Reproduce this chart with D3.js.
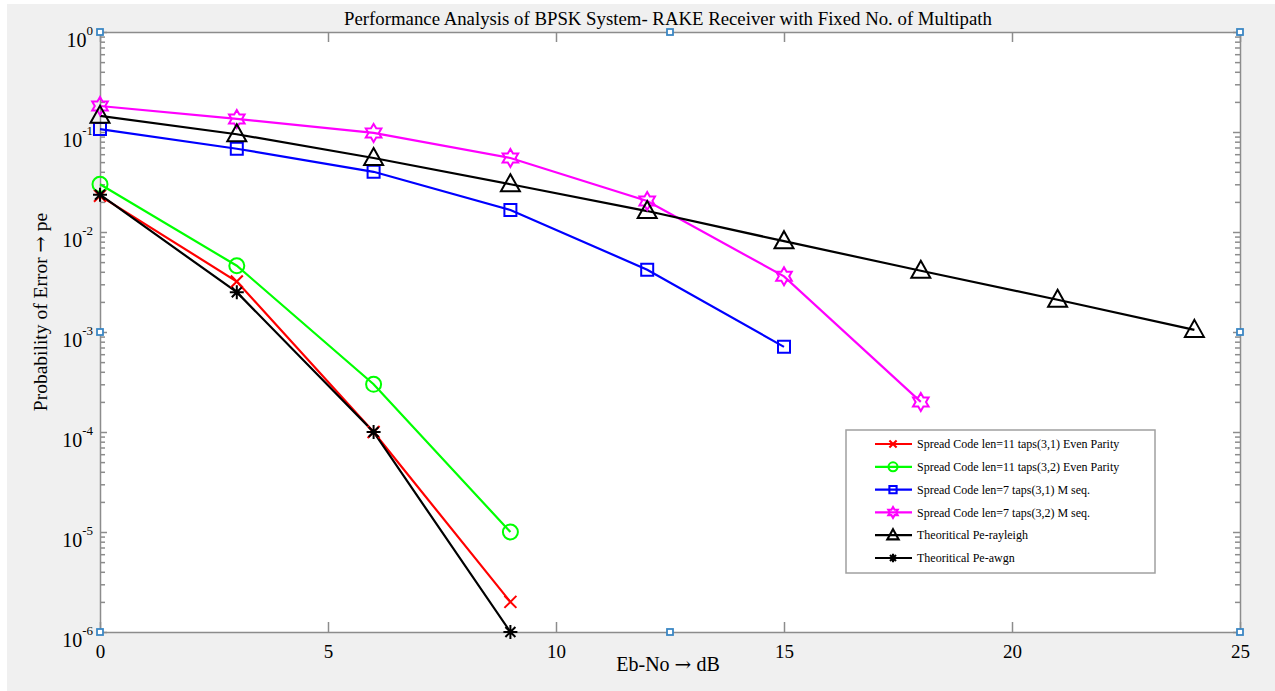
<!DOCTYPE html>
<html>
<head>
<meta charset="utf-8">
<script src="https://cdn.jsdelivr.net/npm/d3@7"></script>
<style>
  body { margin: 0; background: #fff; }
  svg { display: block; font-family: "Liberation Serif", "Times New Roman", serif; }
</style>
</head>
<body>
<script>
const width = 1275
const height = 691
const margin = ({top: 32, right: 35, bottom: 59, left: 100})

// Eb/No in dB
const ebno = [0, 3, 6, 9, 12, 15, 18, 21, 24]

// series values
const evenParity31 = [0.023, 0.0032, 1.0e-4, 2.0e-6]
const evenParity32 = [0.030, 0.0046, 3.0e-4, 1.0e-5]
const mseq31 = [0.107, 0.068, 0.040, 0.0166, 0.0042, 7.1e-4]
const mseq32 = [0.182, 0.135, 0.098, 0.055, 0.0204, 0.0036, 2.0e-4]
const peRayleigh = [0.145, 0.095, 0.055, 0.030, 0.0162, 0.0081, 0.0041, 0.0021, 0.00105]
const peAwgn = [0.0236, 0.0025, 1.0e-4, 1.0e-6]

const names = [
  "Spread Code len=11 taps(3,1) Even Parity",
  "Spread Code len=11 taps(3,2) Even Parity",
  "Spread Code len=7 taps(3,1) M seq.",
  "Spread Code len=7 taps(3,2) M seq.",
  "Theoritical Pe-rayleigh",
  "Theoritical Pe-awgn"
]
const colors = ["#ff0000", "#00ff00", "#0000ff", "#ff00ff", "#000000", "#000000"]
const markers = ["x", "o", "s", "h", "^", "*"]
const seriesValues = [evenParity31, evenParity32, mseq31, mseq32, peRayleigh, peAwgn]

const xTicks = [0, 5, 10, 15, 20, 25]
const yTicks = [1e-6, 1e-5, 1e-4, 1e-3, 1e-2, 1e-1, 1]

const series = names.map((name, i) => ({
  name, color: colors[i], marker: markers[i],
  values: seriesValues[i].map((v, j) => ({x: ebno[j], y: v}))
}))

const x = d3.scaleLinear()
    .domain([0, 25])
    .range([margin.left, width - margin.right])
const y = d3.scaleLog()
    .domain([1e-6, 1])
    .range([height - margin.bottom, margin.top])

const svg = d3.select("body").append("svg")
    .attr("viewBox", [0, 0, width, height])
    .attr("width", width + "px")
    .attr("height", height + "px")

// figure background
svg.append("rect")
    .attr("x", 7).attr("y", 4)
    .attr("width", width - 7).attr("height", height - 4)
    .attr("fill", "#f0f0f0")

svg.append("rect")
    .attr("x", x(0)).attr("y", y(1))
    .attr("width", x(25) - x(0)).attr("height", y(1e-6) - y(1))
    .attr("fill", "#fff")

const axisColor = "#8c8c8c"
const minorTicks = y.ticks().filter(d => !yTicks.includes(d))

function styleAxis(g) {
  g.select(".domain").attr("stroke", axisColor).attr("stroke-width", 1.5)
  g.selectAll(".tick line").attr("stroke", axisColor).attr("stroke-width", 1.5)
}

// bottom / top axes (ticks pointing inward)
svg.append("g")
    .attr("transform", `translate(0,${y(1e-6)})`)
    .call(d3.axisTop(x).tickValues(xTicks).tickFormat("").tickSize(10).tickSizeOuter(0))
    .call(styleAxis)
svg.append("g")
    .attr("transform", `translate(0,${y(1)})`)
    .call(d3.axisBottom(x).tickValues(xTicks).tickFormat("").tickSize(10).tickSizeOuter(0))
    .call(styleAxis)

// x tick labels
svg.append("g")
    .attr("transform", `translate(0,${y(1e-6)})`)
    .call(d3.axisBottom(x).tickValues(xTicks).tickSize(0))
    .call(g => g.select(".domain").remove())
    .call(g => g.selectAll(".tick text")
        .attr("y", 13)
        .attr("dy", "0.71em")
        .attr("fill", "#000")
        .attr("font-size", 19)
        .attr("font-family", "Liberation Serif, serif"))

// left / right axes
for (const side of ["left", "right"]) {
  const pos = side === "left" ? x(0) : x(25)
  const major = side === "left" ? d3.axisRight(y) : d3.axisLeft(y)
  const minor = side === "left" ? d3.axisRight(y) : d3.axisLeft(y)
  svg.append("g")
      .attr("transform", `translate(${pos},0)`)
      .call(major.tickValues(yTicks).tickFormat("").tickSize(7).tickSizeOuter(0))
      .call(styleAxis)
  svg.append("g")
      .attr("transform", `translate(${pos},0)`)
      .call(minor.tickValues(minorTicks).tickFormat("").tickSize(5).tickSizeOuter(0))
      .call(styleAxis)
      .call(g => g.select(".domain").remove())
}

// y tick labels with exponent
svg.append("g")
    .attr("transform", `translate(${x(0)},0)`)
    .call(d3.axisLeft(y).tickValues(yTicks).tickSize(0).tickFormat(d => Math.round(Math.log10(d))))
    .call(g => g.select(".domain").remove())
    .call(g => g.selectAll(".tick text").each(function (d) {
      const t = d3.select(this)
      const e = Math.round(Math.log10(d))
      t.text(null)
        .attr("x", -7)
        .attr("y", 14)
        .attr("dy", null)
        .attr("fill", "#000")
        .attr("font-size", 20)
        .attr("font-family", "Liberation Serif, serif")
      t.append("tspan").text("10")
      t.append("tspan").text(e).attr("font-size", 13).attr("dy", -12)
    }))

// lines
const line = d3.line().x(d => x(d.x)).y(d => y(d.y))

svg.append("g")
    .attr("fill", "none")
    .attr("stroke-width", 2.2)
  .selectAll("path")
  .data(series)
  .join("path")
    .attr("stroke", d => d.color)
    .attr("d", d => line(d.values))

function markerPath(type) {
  const p = d3.path()
  if (type === "x") {
    const r = 6
    p.moveTo(-r, -r); p.lineTo(r, r); p.moveTo(-r, r); p.lineTo(r, -r)
  } else if (type === "*") {
    const r = 7, q = 5
    p.moveTo(-r, 0); p.lineTo(r, 0); p.moveTo(0, -r); p.lineTo(0, r)
    p.moveTo(-q, -q); p.lineTo(q, q); p.moveTo(-q, q); p.lineTo(q, -q)
  } else if (type === "o") {
    p.moveTo(7.5, 0); p.arc(0, 0, 7.5, 0, 2 * Math.PI)
  } else if (type === "s") {
    p.rect(-6, -6, 12, 12)
  } else if (type === "^") {
    p.moveTo(0, -10); p.lineTo(9.5, 7); p.lineTo(-9.5, 7); p.closePath()
  } else if (type === "h") {
    const ro = 9, ri = 5.2
    for (let k = 0; k < 12; k++) {
      const a = -Math.PI / 2 + k * Math.PI / 6
      const r = k % 2 === 0 ? ro : ri
      const px = r * Math.cos(a), py = r * Math.sin(a)
      if (k === 0) p.moveTo(px, py); else p.lineTo(px, py)
    }
    p.closePath()
  }
  return p.toString()
}

// markers
svg.append("g")
  .selectAll("g")
  .data(series)
  .join("g")
    .attr("stroke", d => d.color)
    .attr("fill", "none")
    .attr("stroke-width", 2)
  .selectAll("path")
  .data(d => d.values.map(v => ({...v, marker: d.marker})))
  .join("path")
    .attr("transform", d => `translate(${x(d.x)},${y(d.y)})`)
    .attr("d", d => markerPath(d.marker))

// selection handles
const handles = [[0, 1], [12.5, 1], [25, 1], [0, 1e-3], [25, 1e-3], [0, 1e-6], [12.5, 1e-6], [25, 1e-6]]
svg.append("g")
  .selectAll("rect")
  .data(handles)
  .join("rect")
    .attr("x", d => x(d[0]) - 3)
    .attr("y", d => y(d[1]) - 3)
    .attr("width", 6).attr("height", 6)
    .attr("fill", "#fff")
    .attr("stroke", "#3b87c4")
    .attr("stroke-width", 1.8)

// title and labels
svg.append("text")
    .attr("x", 668).attr("y", 25)
    .attr("text-anchor", "middle")
    .attr("font-size", 18.8)
    .text("Performance Analysis of BPSK System- RAKE Receiver with Fixed No. of Multipath")

const arrowFont = "DejaVu Serif, serif"

const xLabel = svg.append("text")
    .attr("x", 668).attr("y", 671)
    .attr("text-anchor", "middle")
    .attr("font-size", 20)
xLabel.append("tspan").text("Eb-No ")
xLabel.append("tspan").attr("font-family", arrowFont).text("\u2192")
xLabel.append("tspan").text(" dB")

const yLabel = svg.append("text")
    .attr("transform", "translate(47,312) rotate(-90)")
    .attr("text-anchor", "middle")
    .attr("font-size", 19.5)
yLabel.append("tspan").text("Probability of Error ")
yLabel.append("tspan").attr("font-family", arrowFont).text("\u2192")
yLabel.append("tspan").text(" pe")

// legend
const legend = svg.append("g").attr("transform", "translate(846,430)")
legend.append("rect")
    .attr("width", 309).attr("height", 143)
    .attr("fill", "#fff")
    .attr("stroke", "#a0a0a0")
    .attr("stroke-width", 1.5)

const item = legend.selectAll("g.item")
  .data(series)
  .join("g")
    .attr("class", "item")
    .attr("transform", (d, i) => `translate(0,${14 + i * 22.8})`)

item.append("line")
    .attr("x1", 29).attr("x2", 66)
    .attr("stroke", d => d.color)
    .attr("stroke-width", 2.2)
item.append("path")
    .attr("transform", "translate(47,0) scale(0.6)")
    .attr("d", d => markerPath(d.marker))
    .attr("stroke", d => d.color)
    .attr("stroke-width", 3.5)
    .attr("fill", "none")
item.append("text")
    .attr("x", 71).attr("dy", "0.35em")
    .attr("font-size", 12)
    .text(d => d.name)
</script>
</body>
</html>
